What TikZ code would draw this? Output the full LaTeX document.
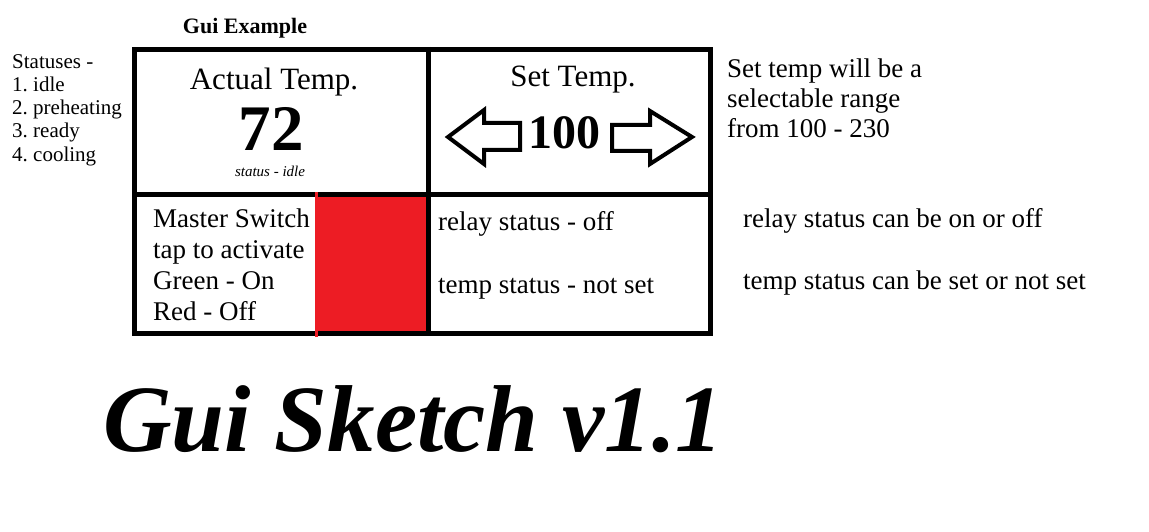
\documentclass[tikz,border=0pt]{standalone}
\usepackage{fontspec}
\setmainfont{Liberation Serif}
\frenchspacing
\begin{document}
\begin{tikzpicture}[x=1pt, y=-1pt, inner sep=0pt, line join=miter,
    txt/.style={anchor=base west},
    mid/.style={anchor=base},
    grid/.style={line width=5pt}]

    % Цвета
    \definecolor{switchred}{RGB}{237,28,36}

    \useasboundingbox (0,0) rectangle (1149,532);

    % Заголовок
    \node[mid, font=\fontsize{22}{26}\selectfont\bfseries] (title) at (245,34) {Gui Example};

    % Список статусов
    \foreach \t [count=\i] in {Statuses -, 1. idle, 2. preheating, 3. ready, 4. cooling}
        \node[txt, font=\fontsize{21}{25}\selectfont] (st\i) at (12,46+\i*23) {\t};

    % Кнопка-переключатель
    \fill[switchred] (316,195) rectangle (428,333);

    % Сетка
    \draw[grid] (134.5,49.5) rectangle (710.5,333.5);
    \draw[grid] (132,194.5) -- (713,194.5);
    \draw[grid] (428.5,47) -- (428.5,336);
    \draw[switchred, line width=3pt] (316,192) -- (316,337);

    % Верхняя левая ячейка
    \node[mid, font=\fontsize{31}{36}\selectfont] (actual) at (274,90) {Actual Temp.};
    \node[mid, font=\fontsize{65}{70}\selectfont\bfseries] (actualval) at (271,150) {72};
    \node[mid, font=\fontsize{15}{18}\selectfont\itshape] (status) at (270,176) {status - idle};

    % Верхняя правая ячейка
    \node[mid, font=\fontsize{31}{36}\selectfont] (settemp) at (573,87) {Set Temp.};
    \node[mid, font=\fontsize{48}{54}\selectfont\bfseries] (setval) at (564,149) {100};
    \draw[line width=4pt] (448,137) -- (484,110) -- (484,123) -- (520,123) -- (520,150)
        -- (484,150) -- (484,164) -- cycle;
    \draw[line width=4pt] (612,125) -- (650,125) -- (650,111) -- (692,137) -- (650,164)
        -- (650,151) -- (612,151) -- cycle;

    % Пояснение справа
    \foreach \t [count=\i] in {Set temp will be a, selectable range, from 100 - 230}
        \node[txt, font=\fontsize{27}{31}\selectfont] (note\i) at (727,48+\i*30) {\t};

    % Нижняя левая ячейка
    \foreach \t [count=\i] in {Master Switch, tap to activate, Green - On, Red - Off}
        \node[txt, font=\fontsize{27}{31}\selectfont] (sw\i) at (153,196.5+\i*31) {\t};

    % Нижняя правая ячейка
    \node[txt, font=\fontsize{27}{31}\selectfont] (relay) at (438,230) {relay status - off};
    \node[txt, font=\fontsize{27}{31}\selectfont] (tempst) at (438,293) {temp status - not set};

    % Пояснения справа внизу
    \node[txt, font=\fontsize{27}{31}\selectfont] (relaynote) at (743,227) {relay status can be on or off};
    \node[txt, font=\fontsize{27}{31}\selectfont] (tempnote) at (743,289) {temp status can be set or not set};

    % Подпись
    \node[txt, font=\fontsize{95}{100}\selectfont\bfseries\itshape] (sketch) at (103,451) {Gui Sketch v1.1};
\end{tikzpicture}
\end{document}
